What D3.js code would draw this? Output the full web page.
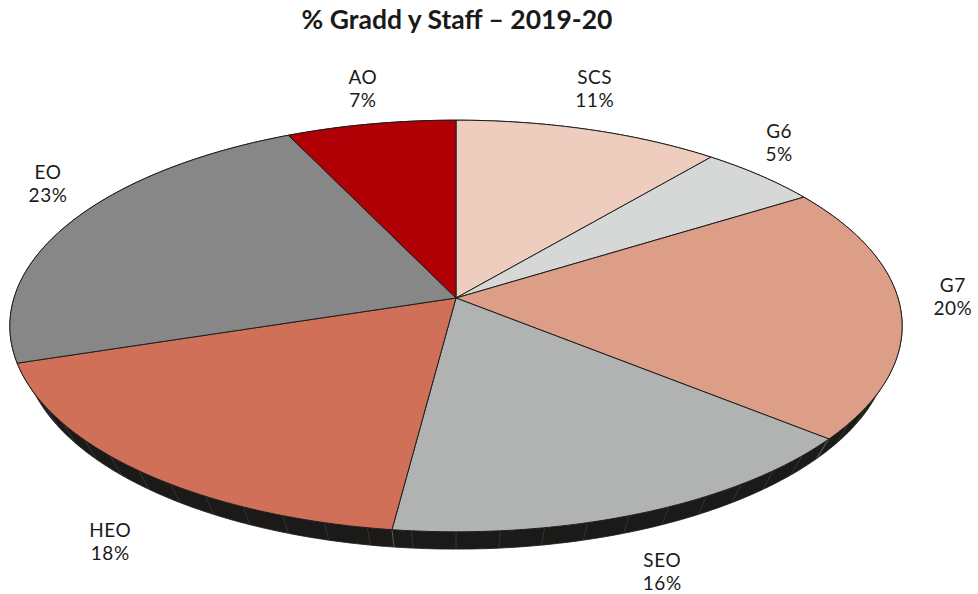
<!DOCTYPE html>
<html>
<head>
<meta charset="utf-8">
<script src="https://cdn.jsdelivr.net/npm/d3@7"></script>
<style>
  html, body { margin: 0; padding: 0; background: #ffffff; }
  svg { display: block; }
</style>
</head>
<body>
<svg id="chart" width="978" height="594"></svg>
<script>
// ---- data ----
const categories = ["SCS", "G6", "G7", "SEO", "HEO", "EO", "AO"];
const values = [11, 5, 20, 16, 18, 23, 7];
const valueLabels = ["11%", "5%", "20%", "16%", "18%", "23%", "7%"];
const title = "% Gradd y Staff – 2019-20";

// ---- styles / layout ----
const colors = ["#eecdbf", "#d6d8d7", "#dc9e87", "#b1b3b2", "#d07058", "#878787", "#b00006"];
// label offset from the slice's projected rim point (layout, not data)
const labelNudge = [[6, -42], [19, -33], [52, -15], [20, 58], [-31, 69], [-23, -39], [-8, -36]];

const W = 978, H = 594;
const cx = 456, cy = 298;      // projected pie centre
const A = 202, B = 442;        // vertical / horizontal projected radii factors
const k = 0.136;               // perspective factor
const T = 22.5;                // thickness of the pie
const E = 0.03;                // extra depth of the bottom face

const svg = d3.select("#chart");

function proj(theta, bottom = false) {
  const s = Math.sin(theta), c = Math.cos(theta);
  const den = 1 + k * c + (bottom ? E : 0);
  return [cx + B * s / den, cy - A * c / den + (bottom ? T : 0) / den];
}

const pie = d3.pie().sort(null).startAngle(0).endAngle(2 * Math.PI).value(d => d);
const arcs = pie(values);

function arcPoints(a0, a1, bottom) {
  const n = Math.max(4, Math.ceil((a1 - a0) * 80));
  const pts = [];
  for (let i = 0; i <= n; i++) pts.push(proj(a0 + (a1 - a0) * i / n, bottom));
  return pts;
}

const line = d3.line();

// side (thickness)
const gSide = svg.append("g");
arcs.forEach((a, i) => {
  const top = arcPoints(a.startAngle, a.endAngle, false);
  const bot = arcPoints(a.startAngle, a.endAngle, true).reverse();
  gSide.append("path")
    .attr("d", line(top.concat(bot)) + "Z")
    .attr("fill", "#1b1a19")
    .attr("stroke", "#1b1a19")
    .attr("stroke-width", 0.8);
});
// faint facet lines on the side
const facetStep = 2 * Math.PI / 72;
for (let t = 0; t < 2 * Math.PI; t += facetStep) {
  if (Math.cos(t) > -0.3) continue;
  const p0 = proj(t, false), p1 = proj(t, true);
  gSide.append("line")
    .attr("x1", p0[0]).attr("y1", p0[1]).attr("x2", p1[0]).attr("y2", p1[1])
    .attr("stroke", "#464443").attr("stroke-width", 0.6);
}
arcs.forEach(a => {
  const t = a.startAngle;
  if (Math.cos(t) > -0.3) return;
  const p0 = proj(t, false), p1 = proj(t, true);
  gSide.append("line")
    .attr("x1", p0[0]).attr("y1", p0[1]).attr("x2", p1[0]).attr("y2", p1[1])
    .attr("stroke", "#6a6867").attr("stroke-width", 0.8);
});

// top faces
const gTop = svg.append("g");
arcs.forEach((a, i) => {
  const pts = [[cx, cy]].concat(arcPoints(a.startAngle, a.endAngle, false));
  gTop.append("path")
    .attr("d", line(pts) + "Z")
    .attr("fill", colors[i])
    .attr("stroke", "#1e1e1e")
    .attr("stroke-width", 1)
    .attr("stroke-linejoin", "round");
});

// labels
const gLab = svg.append("g")
  .attr("font-family", "Lato, 'Open Sans', sans-serif")
  .attr("font-size", 19)
  .attr("letter-spacing", 0.6)
  .attr("fill", "#1a1a1a")
  .attr("text-anchor", "middle");
arcs.forEach((a, i) => {
  const mid = (a.startAngle + a.endAngle) / 2;
  const p = proj(mid, false);
  const x = p[0] + labelNudge[i][0];
  const y = p[1] + labelNudge[i][1];
  gLab.append("text").attr("x", x).attr("y", y - 4).text(categories[i]);
  gLab.append("text").attr("x", x).attr("y", y + 19).text(valueLabels[i]);
});

// title
svg.append("text")
  .attr("x", 457).attr("y", 29)
  .attr("text-anchor", "middle")
  .attr("font-family", "Lato, sans-serif")
  .attr("font-weight", "bold")
  .attr("font-size", 26.5)
  .attr("fill", "#1a1a1a")
  .text(title);
</script>
</body>
</html>
